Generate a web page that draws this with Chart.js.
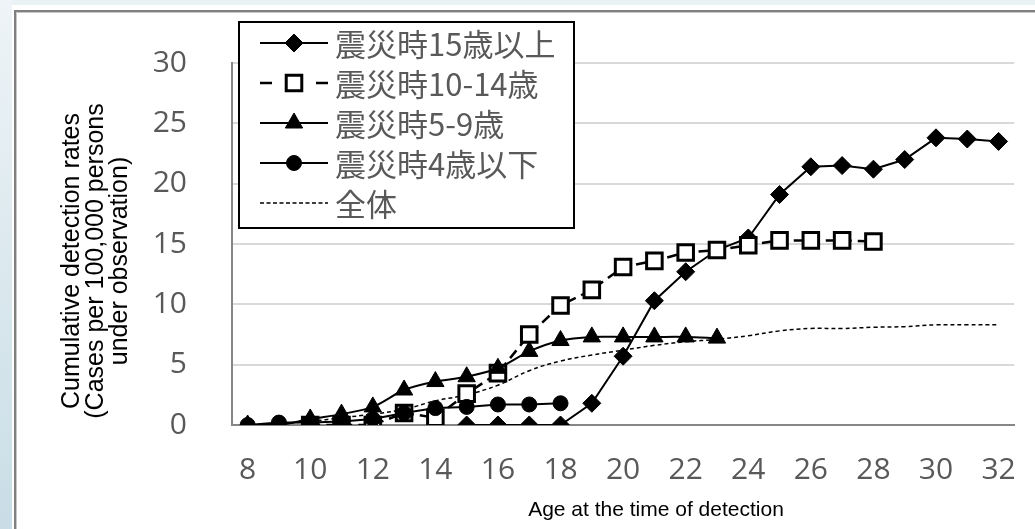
<!DOCTYPE html>
<html>
<head>
<meta charset="utf-8">
<script src="https://cdn.jsdelivr.net/npm/chart.js@4.4.0/dist/chart.umd.min.js"></script>
<style>
    html, body { margin: 0; padding: 0; background: #fff; }
    body { width: 1035px; height: 529px; position: relative; overflow: hidden; }
    #bandLeft { position: absolute; left: 0; top: 0; width: 12px; height: 529px; background: linear-gradient(#eef4f7, #c9dde6); }
    #bandTop { position: absolute; left: 12px; top: 0; width: 1023px; height: 5px; background: #eaf2f5; }
    #frame { position: absolute; left: 14px; top: 10px; width: 1021px; height: 519px; box-sizing: border-box;
             border-left: 2px solid #808080; border-top: 2px solid #808080; }
    #frame::after { content: ''; position: absolute; left: 0; top: 0; right: 0; bottom: 0;
                    border-left: 1px solid #c8c8c8; border-top: 1px solid #c8c8c8; }
    canvas { position: absolute; left: 0; top: 0; }
</style>
</head>
<body>
<div id="bandLeft"></div>
<div id="bandTop"></div>
<div id="frame"></div>
<canvas id="detectionChart" width="1035" height="529"></canvas>

<script>
// age at the time of detection (x categories)
const ages = ['8', '9', '10', '11', '12', '13', '14', '15', '16', '17', '18', '19', '20',
              '21', '22', '23', '24', '25', '26', '27', '28', '29', '30', '31', '32'];

// cumulative detection rates per 100,000
const over15 = [null, null, null, null, null, null, null, 0, 0, 0, 0, 1.8, 5.7,
                10.3, 12.7, 14.5, 15.5, 19.1, 21.4, 21.5, 21.2, 22.0, 23.8, 23.7, 23.5];
const age10to14 = [null, null, 0, 0, 0, 1.0, 0.6, 2.6, 4.3, 7.5, 9.9, 11.2, 13.1,
                   13.6, 14.3, 14.5, 14.9, 15.3, 15.3, 15.3, 15.2, null, null, null, null];
const age5to9 = [0, 0, 0.5, 0.9, 1.5, 2.9, 3.6, 4.0, 4.7, 6.1, 7.0, 7.3, 7.3,
                 7.3, 7.3, 7.2, null, null, null, null, null, null, null, null, null];
const under4 = [0, 0.2, 0.2, 0.3, 0.5, 1.0, 1.4, 1.5, 1.7, 1.7, 1.8, null, null,
                null, null, null, null, null, null, null, null, null, null, null, null];
const overall = [0, 0.1, 0.3, 0.6, 0.9, 1.3, 2.0, 2.5, 3.3, 4.5, 5.3, 5.8, 6.2,
                 6.6, 6.9, 7.1, 7.4, 7.8, 8.0, 8.0, 8.1, 8.15, 8.3, 8.3, 8.3];

const seriesNames = ['震災時15歳以上', '震災時10-14歳', '震災時5-9歳', '震災時4歳以下', '全体'];
const yTicks = [0, 5, 10, 15, 20, 25, 30];

const tickColor = '#595959';

function drawMarker(ctx, style, r, x, y, fill, lw) {
    ctx.save();
    ctx.beginPath();
    if (style === 'rectRot') {
        ctx.moveTo(x, y - r); ctx.lineTo(x + r, y); ctx.lineTo(x, y + r); ctx.lineTo(x - r, y);
        ctx.closePath();
    } else if (style === 'rect') {
        const s = r * Math.SQRT1_2;
        ctx.rect(x - s, y - s, 2 * s, 2 * s);
    } else if (style === 'triangle') {
        for (let k = 0; k < 3; k++) {
            const a = k * 2 * Math.PI / 3;
            const px = x + Math.sin(a) * r, py = y - Math.cos(a) * r;
            if (k === 0) ctx.moveTo(px, py); else ctx.lineTo(px, py);
        }
        ctx.closePath();
    } else if (style === 'circle') {
        ctx.arc(x, y, r, 0, Math.PI * 2);
    }
    ctx.fillStyle = fill;
    ctx.fill();
    ctx.lineWidth = lw;
    ctx.strokeStyle = '#000';
    ctx.stroke();
    ctx.restore();
}

// legend box inside the plot plus the two axis titles
const overlayPlugin = {
    id: 'overlay',
    afterDraw(chart) {
        const ctx = chart.ctx;
        ctx.save();

        // legend box
        ctx.fillStyle = '#fff';
        ctx.fillRect(239, 22, 335, 206);
        ctx.lineWidth = 2;
        ctx.strokeStyle = '#000';
        ctx.strokeRect(239, 22, 335, 206);

        chart.data.datasets.forEach((ds, i) => {
            const y = 43 + i * 40;
            ctx.save();
            ctx.strokeStyle = '#000';
            ctx.lineWidth = ds.borderWidth;
            ctx.setLineDash(ds.legendDash || []);
            ctx.beginPath();
            ctx.moveTo(260, y);
            ctx.lineTo(328, y);
            ctx.stroke();
            ctx.restore();
            if (ds.pointRadius > 0) {
                drawMarker(ctx, ds.pointStyle, ds.pointRadius, 294, y, ds.pointBackgroundColor, ds.pointBorderWidth);
            }
            ctx.fillStyle = tickColor;
            ctx.font = '31px "Noto Sans CJK JP", "Noto Sans"';
            ctx.textAlign = 'left';
            ctx.textBaseline = 'middle';
            ctx.fillText(ds.label, 335, y + 1);
        });

        // y axis title (three lines, rotated)
        const yTitle = ['Cumulative detection rates', '(Cases per 100,000 persons', 'under observation)'];
        ctx.fillStyle = '#000';
        ctx.font = '25px "Liberation Sans", Arial';
        ctx.textAlign = 'center';
        ctx.textBaseline = 'middle';
        yTitle.forEach((t, i) => {
            ctx.save();
            ctx.translate(72 + i * 24, 261);
            ctx.rotate(-Math.PI / 2);
            ctx.fillText(t, 0, 0);
            ctx.restore();
        });

        // x axis title
        ctx.font = '21px "Liberation Sans", Arial';
        ctx.fillText('Age at the time of detection', 656, 510);
        ctx.restore();
    }
};

const ctx = document.getElementById('detectionChart').getContext('2d');
const detectionChart = new Chart(ctx, {
    type: 'line',
    data: {
        labels: ages,
        datasets: [{
            label: seriesNames[0],
            data: over15,
            borderColor: '#000',
            borderWidth: 2,
            pointStyle: 'rectRot',
            pointRadius: 9,
            pointBackgroundColor: '#000',
            pointBorderColor: '#000',
            pointBorderWidth: 1,
            tension: 0,
            order: 3
        }, {
            label: seriesNames[1],
            data: age10to14,
            borderColor: '#000',
            borderWidth: 2.5,
            borderDash: [10, 6],
            legendDash: [12, 44, 12],
            pointStyle: 'rect',
            pointRadius: 11,
            pointBackgroundColor: '#fff',
            pointBorderColor: '#000',
            pointBorderWidth: 3,
            tension: 0,
            order: 2
        }, {
            label: seriesNames[2],
            data: age5to9,
            borderColor: '#000',
            borderWidth: 2,
            pointStyle: 'triangle',
            pointRadius: 10,
            pointBackgroundColor: '#000',
            pointBorderColor: '#000',
            pointBorderWidth: 1,
            tension: 0.3,
            order: 0
        }, {
            label: seriesNames[3],
            data: under4,
            borderColor: '#000',
            borderWidth: 2,
            pointStyle: 'circle',
            pointRadius: 7.5,
            pointBackgroundColor: '#000',
            pointBorderColor: '#000',
            pointBorderWidth: 1,
            tension: 0,
            order: 1
        }, {
            label: seriesNames[4],
            data: overall,
            borderColor: '#000',
            borderWidth: 1.5,
            borderDash: [4, 3],
            legendDash: [4, 2.5],
            pointRadius: 0,
            tension: 0.4,
            order: 4
        }]
    },
    options: {
        responsive: false,
        animation: false,
        layout: { padding: { left: 0, right: 9, top: 43, bottom: 0 } },
        plugins: {
            legend: { display: false },
            tooltip: { enabled: false }
        },
        scales: {
            x: {
                offset: true,
                grid: { display: false },
                border: { display: true, color: '#868686', width: 2 },
                ticks: {
                    autoSkip: false,
                    maxRotation: 0,
                    padding: 19,
                    color: tickColor,
                    font: { family: '"Open Sans", Lato', size: 30 },
                    callback: (v, i) => (Number(ages[i]) % 2 === 0 ? ages[i] : '')
                },
                afterFit: scale => { scale.height = 104; }
            },
            y: {
                min: 0,
                max: 30,
                afterBuildTicks: scale => { scale.ticks = yTicks.map(v => ({ value: v })); },
                grid: { color: '#d9d9d9', lineWidth: 2, drawTicks: false },
                border: { display: true, color: '#868686', width: 2 },
                ticks: {
                    padding: 45,
                    color: tickColor,
                    font: { family: '"Open Sans", Lato', size: 30 }
                },
                afterFit: scale => { scale.width = 232; }
            }
        }
    },
    plugins: [overlayPlugin]
});
</script>
</body>
</html>
